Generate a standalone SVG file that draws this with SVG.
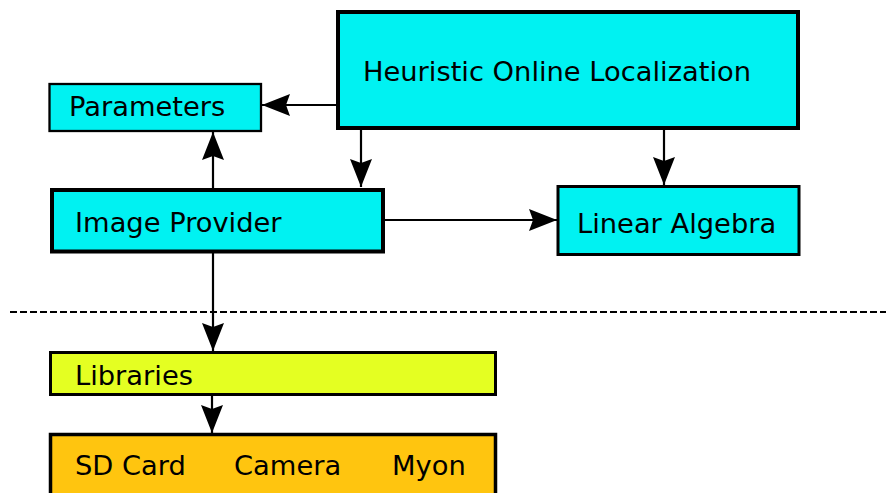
<svg xmlns="http://www.w3.org/2000/svg" width="886" height="493" viewBox="0 0 886 493">
<defs>
<style>
.cy{fill:#00f2f2;stroke:#000}
.t{font-family:"DejaVu Sans",sans-serif;font-size:27.3px;fill:#000}
.c{stroke:#000;stroke-width:2.2;fill:none}
</style>
<marker id="ah" markerWidth="32" markerHeight="26" viewBox="-30 -13 32 26" refX="0" refY="0" orient="auto" markerUnits="userSpaceOnUse" overflow="visible">
<path d="M-28,-11 L0,0 L-28,11 L-24,0 Z" fill="#000"/>
</marker>
</defs>
<rect width="886" height="493" fill="#fff"/>
<g id="connectors">
<line class="c" x1="336" y1="105" x2="262" y2="105" marker-end="url(#ah)"/>
<line class="c" x1="361" y1="130" x2="361" y2="187" marker-end="url(#ah)"/>
<line class="c" x1="664" y1="130" x2="664" y2="185" marker-end="url(#ah)"/>
<line class="c" x1="213" y1="188" x2="213" y2="132" marker-end="url(#ah)"/>
<line class="c" x1="385" y1="220" x2="557" y2="220" marker-end="url(#ah)"/>
<line class="c" x1="213" y1="253" x2="213" y2="351" marker-end="url(#ah)"/>
<line class="c" x1="212" y1="396" x2="212" y2="433" marker-end="url(#ah)"/>
<line x1="10" y1="312" x2="886" y2="312" stroke="#000" stroke-width="2.2" stroke-dasharray="7 3"/>
</g>
<g id="heuristic">
<rect class="cy" x="338" y="12" width="460" height="116" stroke-width="4"/>
<text class="t" x="363" y="81">Heuristic Online Localization</text>
</g>
<g id="parameters">
<rect class="cy" x="49.5" y="84" width="211.5" height="47" stroke-width="2.3"/>
<text class="t" x="69" y="116">Parameters</text>
</g>
<g id="image-provider">
<rect class="cy" x="52" y="190" width="331" height="61.5" stroke-width="4"/>
<text class="t" x="75" y="232">Image Provider</text>
</g>
<g id="linear-algebra">
<rect class="cy" x="558" y="186.5" width="241" height="68" stroke-width="3"/>
<text class="t" x="577" y="233">Linear Algebra</text>
</g>
<g id="libraries">
<rect x="50.5" y="352.5" width="445" height="42" fill="#e4ff22" stroke="#000" stroke-width="3"/>
<text class="t" x="75" y="385">Libraries</text>
</g>
<g id="hardware">
<rect x="50.5" y="434.5" width="445" height="70" fill="#ffc50f" stroke="#000" stroke-width="3.5"/>
<text class="t" x="75" y="475">SD Card</text>
<text class="t" x="234" y="475">Camera</text>
<text class="t" x="392" y="475">Myon</text>
</g>
</svg>
